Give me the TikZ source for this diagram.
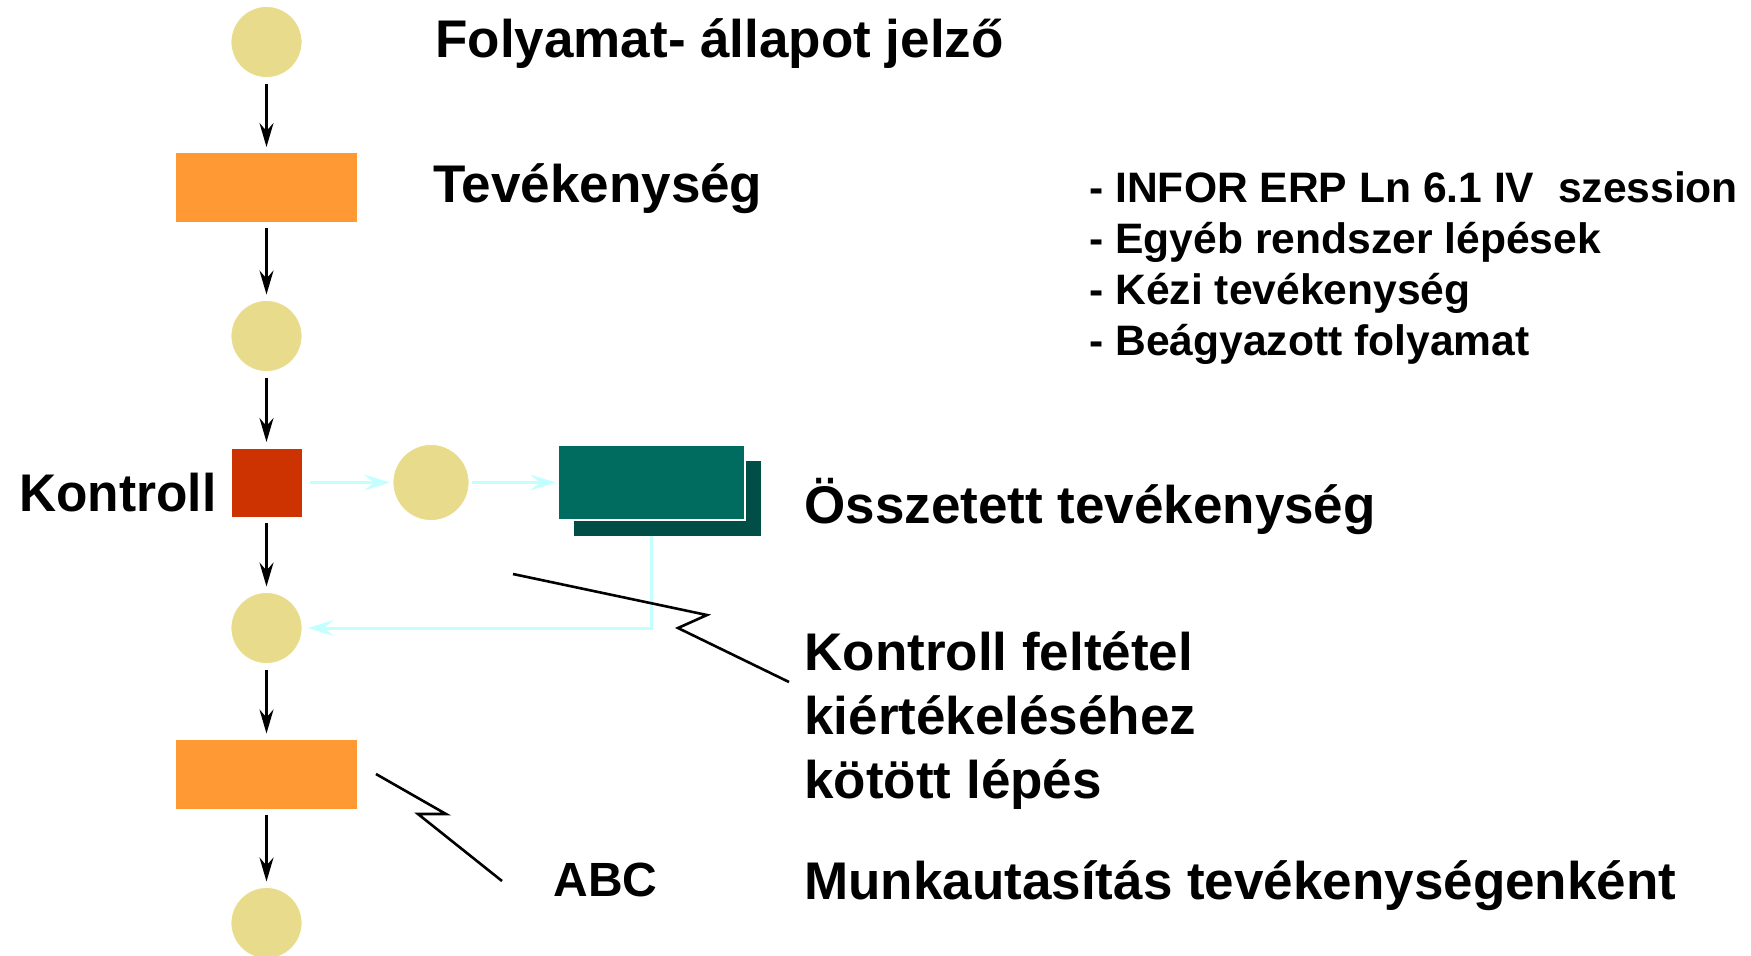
\documentclass[tikz,border=0pt]{standalone}
\usepackage{fontspec}
\setmainfont{Liberation Sans}
\usetikzlibrary{arrows.meta}

\definecolor{stategold}{RGB}{232,220,140}
\definecolor{taskorange}{RGB}{255,153,51}
\definecolor{ctrlred}{RGB}{204,51,0}
\definecolor{subteal}{RGB}{0,108,96}
\definecolor{subtealdark}{RGB}{0,78,70}
\definecolor{flowcyan}{RGB}{196,255,255}

\newcommand{\bigtxt}{\fontsize{26.5}{32}\selectfont\bfseries}
\newcommand{\listtxt}{\fontsize{21.3}{26}\selectfont\bfseries}

\tikzset{
  state/.style={circle, fill=stategold, draw=white, line width=0.4pt, minimum size=35.5pt, inner sep=0pt, outer sep=3pt},
  task/.style={rectangle, fill=taskorange, minimum width=90.5pt, minimum height=34.5pt, inner sep=0pt, outer sep=3pt},
  flow/.style={-{Stealth[length=12pt, width=7pt, inset=4pt]}, line width=1.2pt},
  cyanflow/.style={-{Stealth[length=13pt, width=8pt, inset=5pt]}, line width=1.5pt, flowcyan},
  lbl/.style={inner sep=0pt, anchor=base west, font=\bigtxt},
  bolt/.style={line width=1.3pt}
}

\begin{document}
\begin{tikzpicture}[x=0.5pt, y=-0.5pt]
  \useasboundingbox (0,0) rectangle (1751,955);

  % main flow
  \node[state] (c1) at (266.5,42) {};
  \node[task] (t1) at (266.5,187.5) {};
  \node[state] (c2) at (266.5,336) {};
  \node[fill=ctrlred, draw=white, line width=0.4pt, minimum width=35.5pt, minimum height=34.5pt, inner sep=0pt, outer sep=3pt] (k) at (266.5,482.5) {};
  \node[state] (c4) at (266.5,628) {};
  \node[task] (t2) at (266.5,774) {};
  \node[state] (c5) at (266.5,923) {};

  \draw[flow] (c1) -- (t1);
  \draw[flow] (t1) -- (c2);
  \draw[flow] (c2) -- (k);
  \draw[flow] (k) -- (c4);
  \draw[flow] (c4) -- (t2);
  \draw[flow] (t2) -- (c5);

  % side branch
  \node[state, minimum size=38pt, outer sep=1.5pt] (c3) at (431,482.5) {};
  \node[fill=subtealdark, minimum width=93.5pt, minimum height=37.5pt, inner sep=0pt] (sub2) at (667.5,498.5) {};
  \node[fill=subteal, draw=white, line width=1.2pt, minimum width=93.5pt, minimum height=37.5pt, inner sep=0pt, outer sep=1pt] (sub1) at (651.5,482.5) {};

  \draw[cyanflow, shorten <=1pt] (k) -- (c3);
  \draw[cyanflow] (c3) -- (sub1);
  \draw[cyanflow] (sub1.center |- sub2.south) |- (c4);

  % callout bolts
  \coordinate (b1) at (513,574);
  \coordinate (b1e) at (789,682);
  \draw[bolt] (b1) -- (707,615) -- (678,628) -- (b1e);
  \coordinate (b2) at (376,774);
  \coordinate (b2e) at (502,881);
  \draw[bolt] (b2) -- (446,814) -- (418,814) -- (b2e);

  % labels
  \node[lbl] (lstate) at (435,57) {Folyamat- állapot jelző};
  \node[lbl] (ltask) at (433,202) {Tevékenység};
  \foreach \txt [count=\i] in {- INFOR ERP Ln 6.1 IV~~szession, - Egyéb rendszer lépések, - Kézi tevékenység, - Beágyazott folyamat}
    \node[lbl, font=\listtxt] (lst\i) at (1089,{151+51*\i}) {\txt};
  \node[lbl, xscale=0.97] (lctrl) at (19,511) {Kontroll};
  \node[lbl] (lsub) at (804,523) {Összetett tevékenység};
  \node[lbl] (lcond1) at (804,670) {Kontroll feltétel};
  \node[lbl] (lcond2) at (804,734) {kiértékeléséhez};
  \node[lbl] (lcond3) at (804,798) {kötött lépés};
  \node[lbl, font=\fontsize{24}{28}\selectfont\bfseries] (labc) at (553,896) {ABC};
  \node[lbl] (lwork) at (804,899) {Munkautasítás tevékenységenként};
\end{tikzpicture}
\end{document}
